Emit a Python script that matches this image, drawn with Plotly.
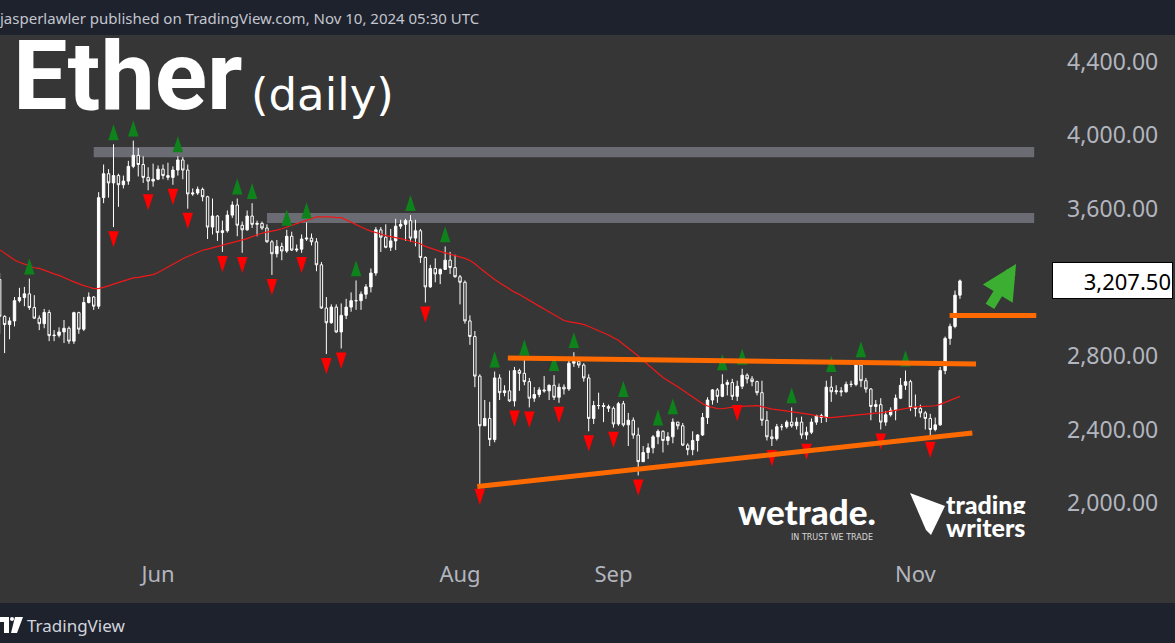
import pandas as pd
import plotly.graph_objects as go

# ---------------- DATA ----------------
dates = pd.date_range("2024-04-30", "2024-11-10", freq="D")

opens = [3215,
 3015, 2970, 2990, 3100, 3117, 3137, 3063, 3005, 2975, 3036, 2910, 2912, 2930, 2950, 2880, 3035, 2945, 3090, 3120, 3070, 3660, 3790, 3740, 3780, 3730, 3750, 3830, 3890, 3840, 3770, 3750,
 3760, 3815, 3780, 3770, 3810, 3865, 3810, 3680, 3685, 3705, 3665, 3500, 3560, 3470, 3480, 3565, 3620, 3510, 3485, 3560, 3515, 3520, 3495, 3420, 3355, 3395, 3370, 3450, 3375, 3380,
 3435, 3440, 3420, 3295, 3060, 2980, 3065, 2930, 3020, 3065, 3100, 3100, 3135, 3175, 3250, 3485, 3445, 3390, 3425, 3505, 3515, 3535, 3440, 3480, 3335, 3175, 3275, 3245, 3270, 3320, 3280,
 3230, 3200, 2990, 2905, 2690, 2420, 2460, 2345, 2680, 2600, 2610, 2555, 2720, 2705, 2660, 2570, 2590, 2615, 2610, 2640, 2575, 2630, 2620, 2760, 2770, 2750, 2680, 2460, 2530, 2530, 2525,
 2515, 2430, 2540, 2425, 2450, 2370, 2225, 2275, 2300, 2360, 2390, 2340, 2360, 2440, 2420, 2315, 2290, 2340, 2370, 2465, 2560, 2615, 2580, 2645, 2655, 2580, 2635, 2695, 2675, 2660,
 2600, 2450, 2360, 2350, 2415, 2415, 2440, 2420, 2440, 2370, 2385, 2440, 2475, 2465, 2630, 2605, 2610, 2605, 2645, 2645, 2750, 2665, 2620, 2525, 2535, 2440, 2480, 2505, 2570, 2640, 2660,
 2520, 2515, 2490, 2460, 2400, 2425, 2720, 2895, 2960, 3130]

highs = [3250,
 3020, 3010, 3120, 3170, 3175, 3220, 3130, 3020, 3055, 3050, 2940, 2955, 2995, 2960, 3040, 3040, 3120, 3145, 3125, 3690, 3840, 3815, 3950, 3790, 3780, 3860, 3970, 3930, 3885, 3825, 3845,
 3835, 3840, 3850, 3830, 3885, 3880, 3840, 3710, 3720, 3715, 3670, 3655, 3565, 3535, 3590, 3640, 3655, 3530, 3590, 3630, 3535, 3530, 3515, 3430, 3430, 3415, 3485, 3475, 3405, 3460,
 3525, 3465, 3440, 3310, 3120, 3080, 3080, 3085, 3110, 3145, 3210, 3150, 3190, 3275, 3500, 3500, 3515, 3490, 3545, 3540, 3545, 3565, 3540, 3490, 3340, 3295, 3330, 3275, 3395, 3365, 3350,
 3240, 3210, 3020, 2935, 2700, 2560, 2550, 2715, 2700, 2640, 2720, 2740, 2730, 2780, 2680, 2630, 2630, 2690, 2645, 2695, 2650, 2645, 2795, 2820, 2790, 2760, 2700, 2555, 2600, 2545, 2535,
 2525, 2550, 2555, 2490, 2465, 2410, 2310, 2325, 2370, 2400, 2395, 2385, 2460, 2440, 2435, 2325, 2390, 2375, 2490, 2575, 2620, 2625, 2700, 2670, 2675, 2665, 2730, 2705, 2690, 2665,
 2665, 2500, 2400, 2430, 2430, 2450, 2520, 2465, 2470, 2415, 2460, 2480, 2485, 2665, 2690, 2640, 2630, 2660, 2665, 2760, 2770, 2680, 2625, 2560, 2570, 2500, 2520, 2590, 2680, 2720, 2670,
 2590, 2535, 2500, 2485, 2465, 2740, 2905, 2975, 3155, 3215]

lows = [2920,
 2815, 2890, 2960, 3090, 3070, 3050, 3000, 2940, 2950, 2880, 2880, 2900, 2870, 2865, 2865, 2920, 2935, 3085, 3050, 3055, 3630, 3660, 3500, 3610, 3710, 3730, 3820, 3775, 3740, 3700, 3720,
 3755, 3760, 3755, 3730, 3780, 3760, 3600, 3670, 3675, 3640, 3435, 3460, 3425, 3365, 3470, 3550, 3450, 3360, 3480, 3495, 3450, 3485, 3415, 3240, 3335, 3320, 3360, 3370, 3365, 3360,
 3425, 3400, 3260, 3055, 2810, 2975, 2925, 2840, 3000, 3040, 3050, 3050, 3110, 3145, 3235, 3365, 3385, 3370, 3375, 3490, 3425, 3420, 3395, 3305, 3090, 3170, 3200, 3190, 3270, 3245, 3225,
 3080, 2975, 2860, 2630, 2100, 2420, 2310, 2330, 2560, 2580, 2550, 2525, 2610, 2640, 2520, 2550, 2575, 2600, 2560, 2560, 2545, 2590, 2610, 2740, 2735, 2660, 2390, 2430, 2510, 2440, 2495,
 2410, 2420, 2415, 2310, 2350, 2150, 2225, 2240, 2270, 2320, 2275, 2315, 2325, 2400, 2310, 2260, 2260, 2280, 2365, 2430, 2535, 2545, 2575, 2585, 2560, 2555, 2620, 2650, 2635, 2585,
 2420, 2340, 2310, 2340, 2395, 2405, 2410, 2400, 2350, 2345, 2375, 2425, 2435, 2440, 2550, 2590, 2580, 2600, 2630, 2635, 2630, 2600, 2450, 2495, 2400, 2420, 2470, 2450, 2565, 2615, 2500,
 2470, 2465, 2400, 2355, 2390, 2420, 2700, 2860, 2950, 3110]

closes = [3015,
 2970, 2990, 3100, 3117, 3137, 3063, 3005, 2975, 3036, 2910, 2912, 2930, 2950, 2880, 3035, 2945, 3090, 3120, 3070, 3660, 3790, 3740, 3780, 3730, 3750, 3830, 3890, 3840, 3770, 3750, 3760,
 3815, 3780, 3770, 3810, 3865, 3810, 3680, 3685, 3705, 3665, 3500, 3560, 3470, 3480, 3565, 3620, 3510, 3485, 3560, 3515, 3520, 3495, 3420, 3355, 3395, 3370, 3450, 3375, 3380, 3435,
 3440, 3420, 3295, 3060, 2980, 3065, 2930, 3020, 3065, 3100, 3100, 3135, 3175, 3250, 3485, 3445, 3390, 3425, 3505, 3515, 3535, 3440, 3480, 3335, 3175, 3275, 3245, 3270, 3320, 3280, 3230,
 3200, 2990, 2905, 2690, 2420, 2460, 2345, 2680, 2600, 2610, 2555, 2720, 2705, 2660, 2570, 2590, 2615, 2610, 2640, 2575, 2630, 2620, 2760, 2770, 2750, 2680, 2460, 2530, 2530, 2525, 2515,
 2430, 2540, 2425, 2450, 2370, 2225, 2275, 2300, 2360, 2390, 2340, 2360, 2440, 2420, 2315, 2290, 2340, 2370, 2465, 2560, 2615, 2580, 2645, 2655, 2580, 2635, 2695, 2675, 2660, 2600,
 2450, 2360, 2350, 2415, 2415, 2440, 2420, 2440, 2370, 2385, 2440, 2475, 2465, 2630, 2605, 2610, 2605, 2645, 2645, 2750, 2665, 2620, 2525, 2535, 2440, 2480, 2505, 2570, 2640, 2660, 2520,
 2515, 2490, 2460, 2400, 2425, 2720, 2895, 2960, 3130, 3207.5]

# closes of the 49 sessions before the first visible bar (for the 50-day SMA)
pre_closes = [3980, 4005, 3880, 3740, 3525, 3645, 3520, 3160, 3515, 3495, 3335, 3330, 3455, 3590, 3585, 3500, 3560, 3510, 3505, 3645,
              3505, 3280, 3310, 3330, 3320, 3390, 3455, 3700, 3505, 3545, 3505, 3240, 3010, 3100, 3100, 3085, 2985, 3065, 3055, 3160,
              3150, 3200, 3220, 3140, 3155, 3130, 3255, 3265, 3215]

y_ticks = [2000, 2400, 2800, 3600, 4000, 4400]
x_tick_dates = ["2024-06-01", "2024-08-01", "2024-09-01", "2024-11-01"]
x_tick_text = ["Jun", "Aug", "Sep", "Nov"]

# user drawings (date, price)
resistance_zones = [("2024-05-19", "2024-11-25", 3880, 3935),
                    ("2024-06-23", "2024-11-25", 3522, 3577)]
trend_lines = [("2024-08-04 12:00", 2090, "2024-11-12 12:00", 2381),
               ("2024-08-10 16:00", 2789, "2024-11-13 06:00", 2756),
               ("2024-11-07 22:00", 3020, "2024-11-25 10:00", 3020)]
last_price = 3207.5

# ---------------- STYLE ----------------
BG = "#363636"
BAR = "#1e222d"
W, H = 1175, 643
ML, MR, MT, MB = 0, 125, 35, 91
PW, PH = W - ML - MR, H - MT - MB


def px(x):
    return (x - ML) / PW


def py(y):
    return (H - MB - y) / PH


# 50-day SMA from closes
all_closes = pd.Series(pre_closes + closes)
sma50 = all_closes.rolling(50).mean().iloc[len(pre_closes):].tolist()

# Williams fractals
n = len(dates)
up_x, up_y, dn_x, dn_y = [], [], [], []
for i in range(2, n - 2):
    if highs[i] > max(highs[i - 2], highs[i - 1], highs[i + 1], highs[i + 2]):
        up_x.append(dates[i]); up_y.append(highs[i] + 110)
    if lows[i] < min(lows[i - 2], lows[i - 1], lows[i + 1], lows[i + 2]):
        dn_x.append(dates[i]); dn_y.append(lows[i] - 110)

fig = go.Figure()
fig.add_trace(go.Scatter(x=dates, y=sma50, mode="lines",
                         line=dict(color="#f01818", width=1.2), hoverinfo="skip"))
fig.add_trace(go.Candlestick(
    x=dates, open=opens, high=highs, low=lows, close=closes,
    increasing=dict(line=dict(color="#ffffff", width=1), fillcolor="#ffffff"),
    decreasing=dict(line=dict(color="#ffffff", width=1), fillcolor=BG),
    whiskerwidth=0, hoverinfo="skip"))
fig.add_trace(go.Scatter(x=up_x, y=up_y, mode="markers",
                         marker=dict(symbol="arrow", size=17, color="#0e821b", line=dict(width=0)),
                         hoverinfo="skip"))
fig.add_trace(go.Scatter(x=dn_x, y=dn_y, mode="markers",
                         marker=dict(symbol="arrow", angle=180, size=17, color="#ff0000", line=dict(width=0)),
                         hoverinfo="skip"))

shapes = []
for x0, x1, y0, y1 in resistance_zones:
    shapes.append(dict(type="rect", xref="x", yref="y", x0=x0, x1=x1, y0=y0, y1=y1,
                       fillcolor="#6b6c73", line=dict(width=0), layer="below"))
for x0, y0, x1, y1 in trend_lines:
    shapes.append(dict(type="line", xref="x", yref="y", x0=x0, y0=y0, x1=x1, y1=y1,
                       line=dict(color="#ff6a00", width=5), layer="above"))
# header / footer bars
shapes.append(dict(type="rect", xref="paper", yref="paper", x0=px(0), x1=px(W), y0=py(35), y1=py(0),
                   fillcolor=BAR, line=dict(width=0), layer="above"))
shapes.append(dict(type="rect", xref="paper", yref="paper", x0=px(0), x1=px(W), y0=py(643), y1=py(603),
                   fillcolor=BAR, line=dict(width=0), layer="above"))


def path(points):
    return "M " + " L ".join(f"{px(a):.5f} {py(b):.5f}" for a, b in points) + " Z"


# TradingView logo (footer)
shapes.append(dict(type="path", xref="paper", yref="paper",
                   path=path([(0, 617), (9, 617), (9, 633), (4, 633), (4, 622), (0, 622)]),
                   fillcolor="#ffffff", line=dict(width=0), layer="above"))
shapes.append(dict(type="path", xref="paper", yref="paper",
                   path=path([(15, 617), (23, 617), (17, 633), (11, 633)]),
                   fillcolor="#ffffff", line=dict(width=0), layer="above"))
shapes.append(dict(type="circle", xref="paper", yref="paper", x0=px(10), x1=px(14), y0=py(621), y1=py(617),
                   fillcolor="#ffffff", line=dict(width=0), layer="above"))
# trading writers icon
shapes.append(dict(type="path", xref="paper", yref="paper",
                   path=path([(910, 493), (945, 506), (931, 535), (926, 530)]),
                   fillcolor="#ffffff", line=dict(width=0), layer="above"))

annotations = [
    dict(text="jasperlawler published on TradingView.com, Nov 10, 2024 05:30 UTC", xref="paper", yref="paper",
         x=px(-3), y=py(18), xanchor="left", yanchor="middle", showarrow=False,
         font=dict(family="Noto Sans", size=15, color="#c3c6ce")),
    dict(text="TradingView", xref="paper", yref="paper", x=px(25), y=py(625), xanchor="left", yanchor="middle",
         showarrow=False, font=dict(family="Noto Sans", size=17, color="#d1d4dc")),
    dict(text="Ether", xref="paper", yref="paper", x=px(11), y=py(76), xanchor="left", yanchor="middle",
         height=76, showarrow=False, font=dict(family="Roboto", size=97, color="#ffffff", weight=700)),
    dict(text="(daily)", xref="paper", yref="paper", x=px(249), y=py(94), xanchor="left", yanchor="middle",
         showarrow=False, font=dict(family="DejaVu Sans", size=45, color="#ffffff")),
    dict(text="wetrade.", xref="paper", yref="paper", x=px(807), y=py(511), xanchor="center", yanchor="middle",
         height=28, showarrow=False, font=dict(family="Lato", size=35, color="#ffffff", weight=900)),
    dict(text="IN TRUST WE TRADE", xref="paper", yref="paper", x=px(832), y=py(537), xanchor="center", yanchor="middle",
         height=10, showarrow=False, font=dict(family="DejaVu Sans", size=8, color="#d8d8d8")),
    dict(text="trading", xref="paper", yref="paper", x=px(944), y=py(504), xanchor="left", yanchor="middle",
         height=20, showarrow=False, font=dict(family="Lato", size=25, color="#ffffff", weight=900)),
    dict(text="writers", xref="paper", yref="paper", x=px(944), y=py(527), xanchor="left", yanchor="middle",
         height=20, showarrow=False, font=dict(family="Lato", size=25, color="#ffffff", weight=900)),
    dict(text=f"{last_price:,.2f}", xref="paper", yref="y", x=px(1112.5), y=last_price, xanchor="center",
         yanchor="middle", showarrow=False, bgcolor="#ffffff", bordercolor="#000000", borderwidth=1,
         width=117, height=33, align="right", font=dict(family="Noto Sans", size=22, color="#000000")),
    dict(text="", x="2024-11-21 08:00", y=3300, xref="x", yref="y", ax=-27, ay=44,
         showarrow=True, arrowhead=2, arrowsize=0.7, arrowwidth=10, arrowcolor="#3cae31"),
]

x_start = pd.Timestamp("2024-08-01") - pd.Timedelta(days=92.93)
x_end = pd.Timestamp("2024-08-01") + pd.Timedelta(days=119.19)

fig.update_layout(
    width=W, height=H, margin=dict(l=ML, r=MR, t=MT, b=MB, pad=0),
    paper_bgcolor=BG, plot_bgcolor=BG, showlegend=False,
    shapes=shapes, annotations=annotations,
    xaxis=dict(type="date", range=[x_start, x_end], rangeslider=dict(visible=False),
               tickvals=x_tick_dates, ticktext=x_tick_text, showgrid=False, zeroline=False,
               showline=False, ticks="", ticklabelstandoff=7,
               tickfont=dict(family="Noto Sans", size=22, color="#b2b5be")),
    yaxis=dict(side="right", range=[1734, 4544], tickvals=y_ticks, tickformat=",.2f",
               showgrid=False, zeroline=False, showline=False, ticks="", ticklabelstandoff=16,
               tickfont=dict(family="Noto Sans", size=23, color="#b2b5be")),
)

fig.write_html("out.html", config={"displayModeBar": False},
               post_script="document.body.style.margin='0';document.body.style.overflow='hidden';")
